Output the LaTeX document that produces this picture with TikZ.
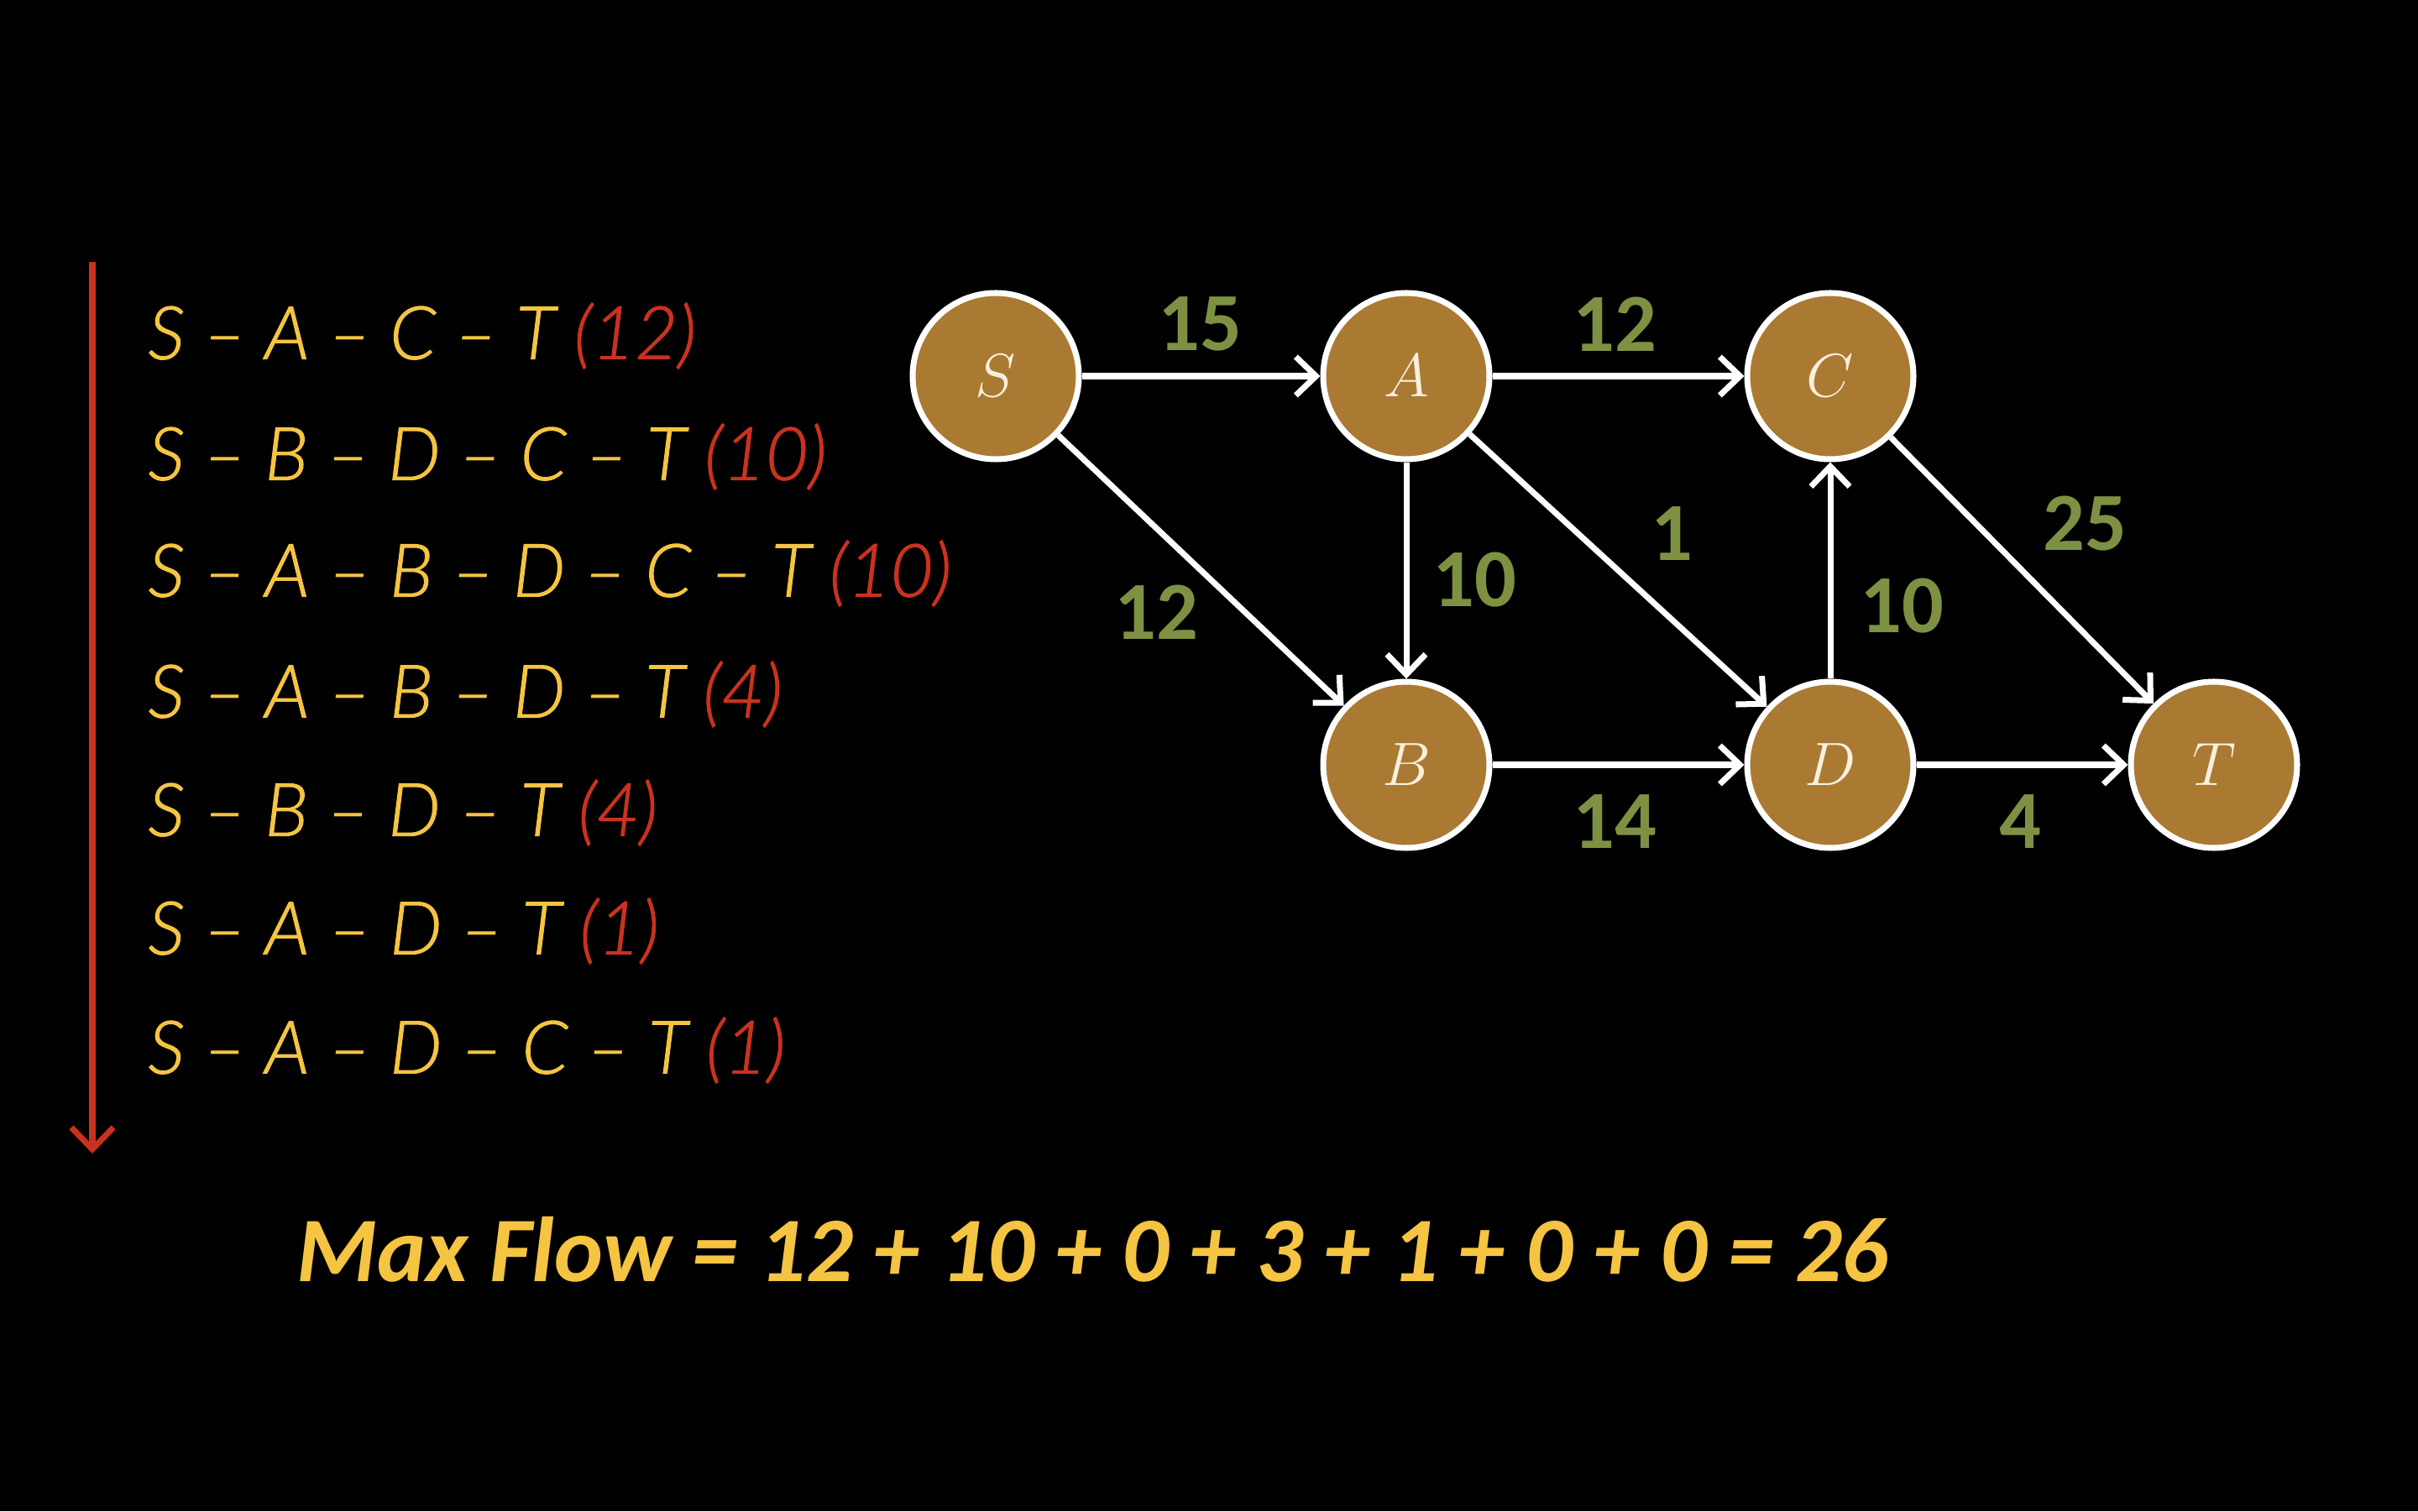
\documentclass[tikz,border=0pt]{standalone}
\usepackage{fontspec}
\usepackage{tikz}
\usetikzlibrary{positioning,arrows.meta}
\newfontfamily\listfont{Lato}[ItalicFont={Lato Light Italic},ItalicFeatures={FakeBold=1.2}]
\newfontfamily\labelfont{Carlito}
\definecolor{nodebrown}{RGB}{170,122,51}
\definecolor{capgreen}{RGB}{126,145,66}
\definecolor{pathyellow}{RGB}{244,196,66}
\definecolor{pathred}{RGB}{201,50,31}
\definecolor{cream}{RGB}{248,240,220}

\begin{document}
\begin{tikzpicture}[
  vertex/.style={circle,draw=white,line width=2pt,fill=nodebrown,minimum size=1.98cm,inner sep=0pt,
    text=cream,font=\fontsize{20}{24}\selectfont},
  edge/.style={draw=white,line width=2pt,-{Straight Barb[length=2.4mm,width=4.6mm,line width=2pt]}},
  capacity/.style={text=capgreen,font=\labelfont\bfseries\fontsize{28}{32}\selectfont},
  pathline/.style={anchor=west,text=pathyellow,font=\listfont\itshape\fontsize{25}{29}\selectfont}]
\useasboundingbox[fill=black] (0,0) rectangle (28.8,18);

% the network
\node [vertex] (S) at (11.86,13.52) {$S$};
\node [vertex] (A) at (16.75,13.52) {$A$};
\node [vertex] (C) at (21.80,13.52) {$C$};
\node [vertex] (B) at (16.75,8.89) {$B$};
\node [vertex] (D) at (21.80,8.89) {$D$};
\node [vertex] (T) at (26.37,8.89) {$T$};

\draw [edge] (S) -- (A);
\draw [edge] (A) -- (C);
\draw [edge] (S) -- (B);
\draw [edge] (A) -- (B);
\draw [edge] (A) -- (D);
\draw [edge] (D) -- (C);
\draw [edge] (C) -- (T);
\draw [edge] (B) -- (D);
\draw [edge] (D) -- (T);

\node [capacity] (cSA) at (14.29,14.14) {15};
\node [capacity] (cAC) at (19.23,14.14) {12};
\node [capacity] (cSB) at (13.77,10.71) {12};
\node [capacity] (cAB) at (17.56,11.09) {10};
\node [capacity] (cAD) at (19.91,11.64) {1};
\node [capacity] (cDC) at (22.65,10.78) {10};
\node [capacity] (cCT) at (24.83,11.76) {25};
\node [capacity] (cBD) at (19.23,8.21) {14};
\node [capacity] (cDT) at (24.06,8.21) {4};

% augmenting paths, in order
\coordinate (top) at (1.10,14.88);
\coordinate (bot) at (1.10,4.26);
\draw [pathred,line width=2pt,-{Straight Barb[length=2.6mm,width=5mm,line width=2pt]}] (top) -- (bot);

\node [pathline] (p1) at (1.64,14.00) {S – A – C – T \textcolor{pathred}{(12)}};
\node [pathline] (p2) at (1.64,12.56) {S – B – D – C – T \textcolor{pathred}{(10)}};
\node [pathline] (p3) at (1.64,11.17) {S – A – B – D – C – T \textcolor{pathred}{(10)}};
\node [pathline] (p4) at (1.64,9.73) {S – A – B – D – T \textcolor{pathred}{(4)}};
\node [pathline] (p5) at (1.64,8.32) {S – B – D – T \textcolor{pathred}{(4)}};
\node [pathline] (p6) at (1.64,6.91) {S – A – D – T \textcolor{pathred}{(1)}};
\node [pathline] (p7) at (1.64,5.49) {S – A – D – C – T \textcolor{pathred}{(1)}};

\node [anchor=west,text=pathyellow,font=\labelfont\bfseries\itshape\fontsize{31.3}{36}\selectfont] (total)
  at (3.41,3.12) {Max Flow = 12 + 10 + 0 + 3 + 1 + 0 + 0 = 26};
\end{tikzpicture}
\end{document}
